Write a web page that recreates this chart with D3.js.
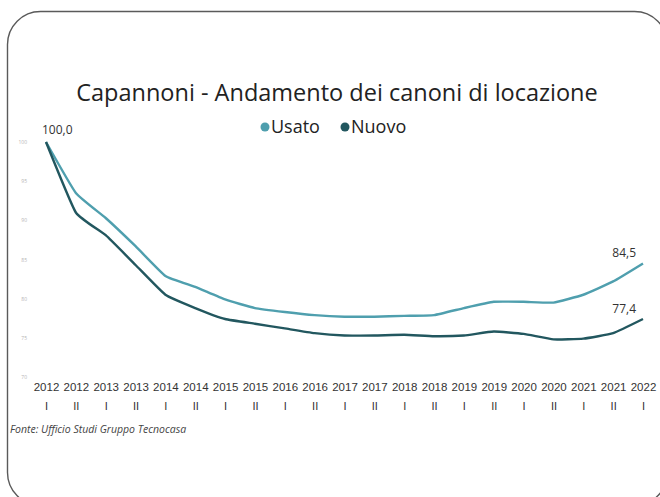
<!DOCTYPE html>
<html>
<head>
<meta charset="utf-8">
<script src="https://cdn.jsdelivr.net/npm/d3@7"></script>
<style>
  body { margin: 0; background: #fff; }
  svg { display: block; font-family: "Open Sans", "Noto Sans", sans-serif; }
</style>
</head>
<body>
<svg id="chart" width="660" height="497"></svg>
<script>
// semesters 2012 I .. 2022 I
var years = ["2012","2012","2013","2013","2014","2014","2015","2015","2016","2016","2017",
             "2017","2018","2018","2019","2019","2020","2020","2021","2021","2022"];
var halves = ["I","II","I","II","I","II","I","II","I","II","I",
              "II","I","II","I","II","I","II","I","II","I"];
var usato = [100.0, 93.5, 90.3, 86.7, 82.9, 81.5, 79.9, 78.8, 78.3, 77.9, 77.7,
             77.7, 77.8, 77.9, 78.8, 79.6, 79.6, 79.5, 80.5, 82.2, 84.5];
var nuovo = [100.0, 91.0, 88.1, 84.3, 80.5, 78.8, 77.4, 76.8, 76.2, 75.6, 75.3,
             75.3, 75.4, 75.2, 75.3, 75.8, 75.5, 74.8, 74.9, 75.6, 77.4];
var yTicks = [100, 95, 90, 85, 80, 75, 70];

var svg = d3.select("#chart");

// rounded frame
svg.append("rect")
  .attr("x", 7.5).attr("y", 11.5)
  .attr("width", 660).attr("height", 494)
  .attr("rx", 33).attr("ry", 33)
  .attr("fill", "none").attr("stroke", "#5a5a5a").attr("stroke-width", 1.4);

var idx = d3.range(years.length);
var x = d3.scalePoint().domain(idx).range([46, 643]);
var y = d3.scaleLinear().domain([70, 100]).range([377, 142]);

// title + legend
svg.append("text").attr("x", 337).attr("y", 101)
  .attr("text-anchor", "middle").attr("font-size", 23.5).attr("fill", "#222")
  .text("Capannoni - Andamento dei canoni di locazione");

var legend = [{name: "Usato", color: "#4f9fae", x: 270}, {name: "Nuovo", color: "#22575f", x: 350}];
var lg = svg.append("g").selectAll("g").data(legend).enter().append("g");
lg.append("circle").attr("cx", function(d){ return d.x - 5; }).attr("cy", 127).attr("r", 4.5)
  .attr("fill", function(d){ return d.color; });
lg.append("text").attr("x", function(d){ return d.x + 1; }).attr("y", 133)
  .attr("font-size", 18).attr("fill", "#222")
  .text(function(d){ return d.name; });

// faint y axis
var yAxis = svg.append("g").attr("transform", "translate(27,0)")
  .call(d3.axisLeft(y).tickValues(yTicks).tickSize(0).tickPadding(0));
yAxis.select(".domain").remove();
yAxis.selectAll("text").attr("font-size", 5).attr("fill", "#b5b5b5")
  .attr("font-family", "Open Sans, sans-serif");

// x axis: year + semester
var xAxis = svg.append("g").attr("transform", "translate(0,378)")
  .call(d3.axisBottom(x).tickSize(0).tickFormat(""));
xAxis.select(".domain").remove();
xAxis.selectAll(".tick").each(function(d){
  var t = d3.select(this);
  t.append("text").attr("y", 13).attr("text-anchor", "middle")
    .attr("font-size", 11.5).attr("fill", "#333").text(years[d]);
  t.append("text").attr("y", 32).attr("text-anchor", "middle")
    .attr("font-size", 11).attr("fill", "#333").text(halves[d]);
});

// lines
var line = d3.line()
  .x(function(d, i){ return x(i); })
  .y(function(d){ return y(d); })
  .curve(d3.curveCardinal.tension(0.6));

svg.append("path").datum(usato).attr("d", line)
  .attr("fill", "none").attr("stroke", "#4f9fae").attr("stroke-width", 2.4);
svg.append("path").datum(nuovo).attr("d", line)
  .attr("fill", "none").attr("stroke", "#22575f").attr("stroke-width", 2.4);

// data labels
function fmt(v){ return d3.format(".1f")(v).replace(".", ","); }
var last = usato.length - 1;
svg.append("text").attr("x", x(0) - 4).attr("y", y(usato[0]) - 8)
  .attr("font-size", 12).attr("fill", "#333").text(fmt(usato[0]));
svg.append("text").attr("x", x(last) - 7).attr("y", y(usato[last]) - 6)
  .attr("text-anchor", "end").attr("font-size", 12).attr("fill", "#333").text(fmt(usato[last]));
svg.append("text").attr("x", x(last) - 7).attr("y", y(nuovo[last]) - 6)
  .attr("text-anchor", "end").attr("font-size", 12).attr("fill", "#333").text(fmt(nuovo[last]));

// source
svg.append("text").attr("x", 10).attr("y", 433)
  .attr("font-size", 10.5).attr("font-style", "italic").attr("fill", "#444")
  .text("Fonte: Ufficio Studi Gruppo Tecnocasa");
</script>
</body>
</html>
